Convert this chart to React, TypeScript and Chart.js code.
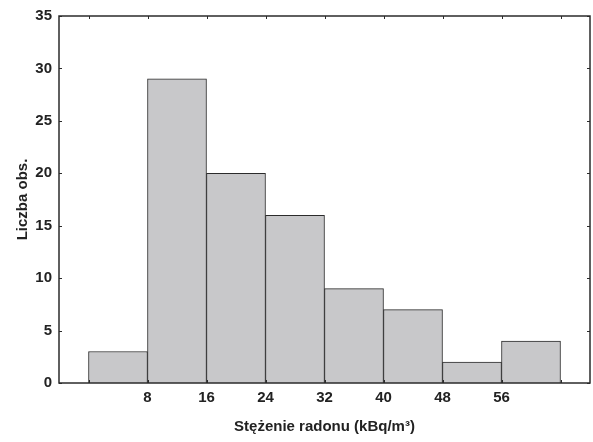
import React, { useEffect, useRef } from "react";
import { Chart, registerables } from "chart.js";

Chart.register(...registerables);

const binStarts = [0, 8, 16, 24, 32, 40, 48, 56];
const binWidth = 8;
const counts = [3, 29, 20, 16, 9, 7, 2, 4];
const xTickLabels = [8, 16, 24, 32, 40, 48, 56];
const xFrameTicks = [0, 8, 16, 24, 32, 40, 48, 56, 64];
const yTickValues = [0, 5, 10, 15, 20, 25, 30, 35];
const xTitle = "Stężenie radonu (kBq/m³)";
const yTitle = "Liczba obs.";

const FONT = "'Liberation Sans', Arial, Helvetica, sans-serif";
const TEXT = "#222222";
const LINE = "#2b2b2b";
const FS = 15;

const framePlugin = {
  id: "frameTicks",
  afterDatasetsDraw(chart: any) {
    const { ctx, chartArea } = chart;
    const xs = chart.scales.x;
    const ys = chart.scales.y;
    const { left, right, top, bottom } = chartArea;
    ctx.save();
    ctx.strokeStyle = LINE;
    ctx.lineWidth = 1;
    const tl = 3;
    ctx.beginPath();
    for (const v of xFrameTicks) {
      const px = Math.round(xs.getPixelForValue(v)) + 0.5;
      ctx.moveTo(px, top);
      ctx.lineTo(px, top + tl);
      ctx.moveTo(px, bottom);
      ctx.lineTo(px, bottom - tl);
    }
    for (const v of yTickValues) {
      const py = Math.round(ys.getPixelForValue(v)) + 0.5;
      ctx.moveTo(left, py);
      ctx.lineTo(left + tl, py);
      ctx.moveTo(right, py);
      ctx.lineTo(right - tl, py);
    }
    ctx.stroke();
    ctx.lineWidth = 1.5;
    ctx.strokeRect(left, top, right - left, bottom - top);
    ctx.restore();
  },
};

export default function App() {
  const ref = useRef<HTMLCanvasElement | null>(null);
  useEffect(() => {
    if (!ref.current) return;
    const chart = new Chart(ref.current, {
      type: "bar",
      data: {
        datasets: [
          {
            data: binStarts.map((s, i) => ({ x: s + binWidth / 2, y: counts[i] })),
            backgroundColor: "#c8c8ca",
            borderColor: LINE,
            borderWidth: 1,
            barPercentage: 1,
            categoryPercentage: 1,
          },
        ],
      },
      plugins: [framePlugin],
      options: {
        responsive: false,
        animation: false,
        layout: { padding: { top: 15, right: 3, left: 0, bottom: 0 } },
        plugins: { legend: { display: false }, tooltip: { enabled: false } },
        scales: {
          x: {
            type: "linear",
            min: -4,
            max: 68,
            offset: false,
            grid: { display: false, drawTicks: false },
            border: { display: false },
            afterBuildTicks: (scale: any) => {
              scale.ticks = xTickLabels.map((v) => ({ value: v }));
            },
            afterFit: (scale: any) => {
              scale.height = 59;
            },
            ticks: {
              autoSkip: false,
              maxRotation: 0,
              padding: 6,
              color: TEXT,
              font: { family: FONT, size: FS, weight: "bold" },
            },
            title: {
              display: true,
              text: xTitle,
              color: TEXT,
              font: { family: FONT, size: FS, weight: "bold" },
              padding: { top: 0, bottom: 6.5 },
            },
          },
          y: {
            type: "linear",
            min: 0,
            max: 35,
            grid: { display: false, drawTicks: false },
            border: { display: false },
            afterBuildTicks: (scale: any) => {
              scale.ticks = yTickValues.map((v) => ({ value: v }));
            },
            afterFit: (scale: any) => {
              scale.width = 59;
            },
            ticks: {
              padding: 7,
              color: TEXT,
              font: { family: FONT, size: FS, weight: "bold" },
            },
            title: {
              display: true,
              text: yTitle,
              color: TEXT,
              font: { family: FONT, size: FS, weight: "bold" },
              padding: { top: 14, bottom: 0 },
            },
          },
        },
      },
    } as any);
    return () => chart.destroy();
  }, []);
  return (
    <div style={{ position: "absolute", left: 0, top: 0, width: 593, height: 442, background: "#fff" }}>
      <canvas ref={ref} width={593} height={442} style={{ display: "block" }} />
    </div>
  );
}
